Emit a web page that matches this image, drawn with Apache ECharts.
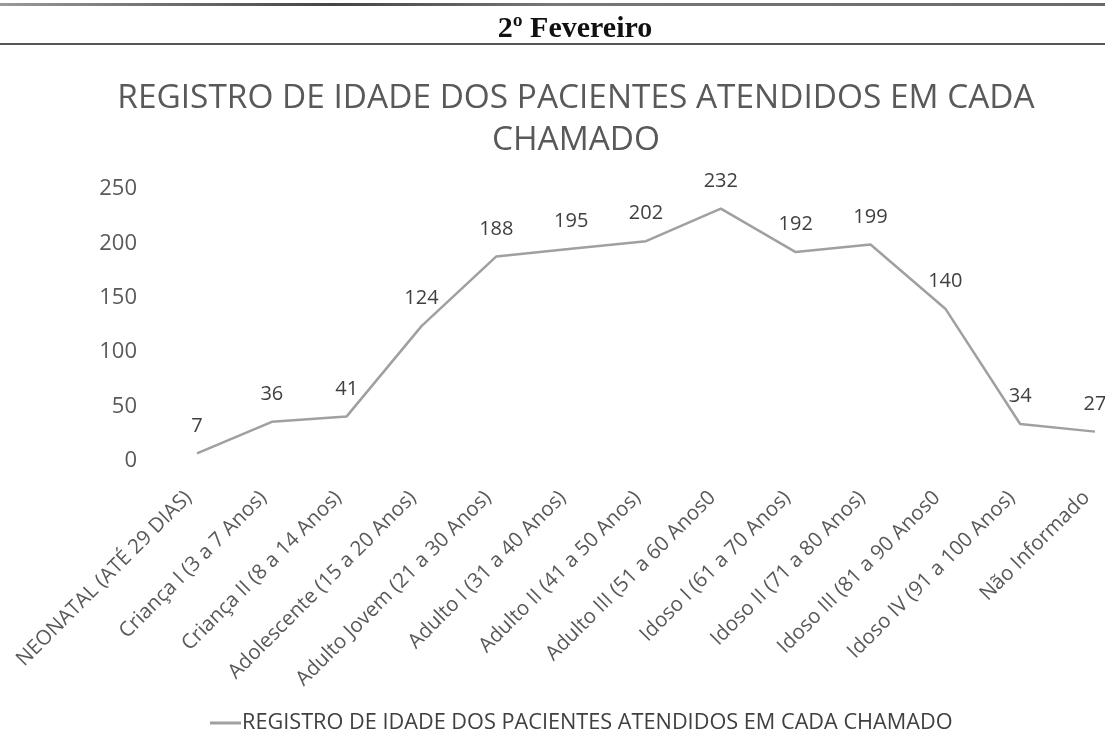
<!DOCTYPE html>
<html>
<head>
<meta charset="utf-8">
<script src="https://cdn.jsdelivr.net/npm/echarts@6/dist/echarts.min.js"></script>
<style>
html,body{margin:0;padding:0;background:#fff;}
#chart{width:1105px;height:749px;}
</style>
</head>
<body>
<div id="chart"></div>
<script>
const headerText = "2º Fevereiro";
const chartTitle = "REGISTRO DE IDADE DOS PACIENTES ATENDIDOS EM CADA\nCHAMADO";
const seriesName = "REGISTRO DE IDADE DOS PACIENTES ATENDIDOS EM CADA CHAMADO";
const categories = [
  "NEONATAL (ATÉ 29 DIAS)",
  "Criança I (3 a 7 Anos)",
  "Criança II (8 a 14 Anos)",
  "Adolescente (15 a 20 Anos)",
  "Adulto Jovem (21 a 30 Anos)",
  "Adulto I (31 a 40 Anos)",
  "Adulto II (41 a 50 Anos)",
  "Adulto III (51 a 60 Anos0",
  "Idoso I (61 a 70 Anos)",
  "Idoso II (71 a 80 Anos)",
  "Idoso III (81 a 90 Anos0",
  "Idoso IV (91 a 100 Anos)",
  "Não Informado"
];
const values = [7, 36, 41, 124, 188, 195, 202, 232, 192, 199, 140, 34, 27];
const yMin = 0, yMax = 250, yInterval = 50;

const font = "'Open Sans', sans-serif";
const lineColor = '#a0a0a0';
const chart = echarts.init(document.getElementById('chart'), null, {renderer: 'canvas'});
chart.setOption({
  backgroundColor: '#ffffff',
  animation: false,
  graphic: [
    {type: 'rect', shape: {x: 0, y: 3, width: 1105, height: 3},
     style: {fill: new echarts.graphic.LinearGradient(0, 0, 1, 0, [
       {offset: 0, color: '#9a9a9a'}, {offset: 0.3, color: '#444'}, {offset: 0.5, color: '#777'}, {offset: 1, color: '#6a6a6a'}])}},
    {type: 'rect', shape: {x: 0, y: 43, width: 1105, height: 2}, style: {fill: '#555'}}
  ],
  title: [
    {text: headerText, left: 570, top: 9, textAlign: 'center',
     textStyle: {fontFamily: "'Liberation Serif', serif", fontWeight: 'bold', fontSize: 30, color: '#111'}},
    {text: chartTitle, left: 571, top: 72, textAlign: 'center',
     textStyle: {fontFamily: font, fontWeight: 'normal', fontSize: 33.4, lineHeight: 42, color: '#595959'}}
  ],
  legend: {
    bottom: 10, left: 205,
    itemWidth: 31, itemHeight: 3, itemGap: 4,
    icon: 'rect',
    itemStyle: {color: lineColor, opacity: 1},
    textStyle: {fontFamily: font, fontSize: 21.7, color: '#404040', padding: [0,0,0,-4]},
    data: [seriesName]
  },
  grid: {left: 197, right: 10, top: 189, bottom: 288, containLabel: false},
  xAxis: {
    type: 'category', data: categories, boundaryGap: false,
    axisLine: {show: false}, axisTick: {show: false},
    axisLabel: {rotate: 45, margin: 25, padding: [0, 12, 0, 0], interval: 0, fontFamily: font, fontSize: 20.5, color: '#595959'}
  },
  yAxis: {
    type: 'value', min: yMin, max: yMax, interval: yInterval,
    splitLine: {show: false}, axisLine: {show: false}, axisTick: {show: false},
    axisLabel: {margin: 60, fontFamily: font, fontSize: 22, color: '#595959'}
  },
  series: [{
    name: seriesName, type: 'line', data: values,
    symbol: 'circle', symbolSize: 1, showSymbol: true,
    lineStyle: {color: lineColor, width: 2.5},
    itemStyle: {color: lineColor, opacity: 0},
    label: {show: true, position: 'top', distance: 17, fontFamily: font, fontSize: 20, color: '#404040', opacity: 1}
  }]
});
</script>
</body>
</html>
